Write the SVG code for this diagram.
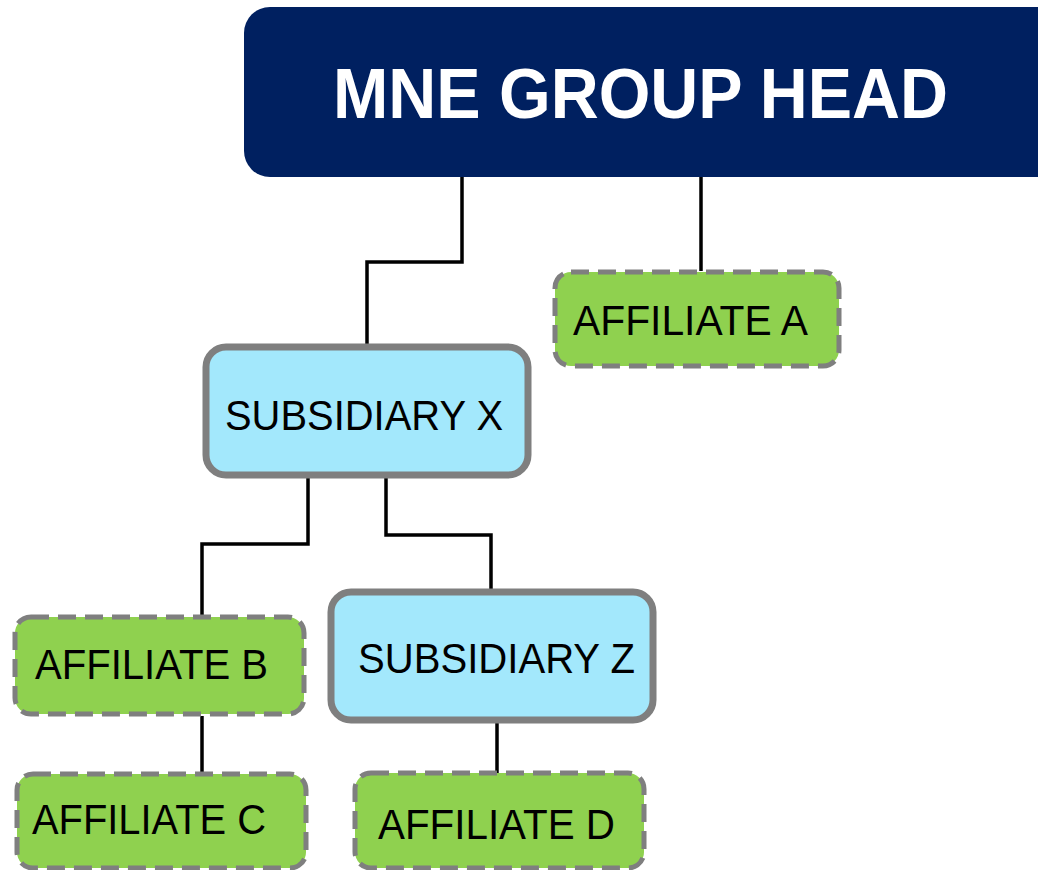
<svg xmlns="http://www.w3.org/2000/svg" width="1038" height="870" viewBox="0 0 1038 870">
<style>
.lbl{font-family:"Liberation Sans",Arial,sans-serif;fill:#000;font-size:43px}
.head{font-family:"Liberation Sans",Arial,sans-serif;fill:#fff;font-size:71px;font-weight:bold}
.aff{fill:#8fd14f;stroke:#7f7f7f;stroke-width:5;stroke-dasharray:18 9}
.sub{fill:#a3e8fc;stroke:#7f7f7f;stroke-width:7}
.conn{fill:none;stroke:#000;stroke-width:3.5}
</style>
<rect width="1038" height="870" fill="#fff"/>
<g id="connectors">
<polyline class="conn" points="462,177 462,262 367,262 367,346"/>
<polyline class="conn" points="701,177 701,271"/>
<polyline class="conn" points="308,477 308,544 202,544 202,616"/>
<polyline class="conn" points="386,477 386,535 491,535 491,591"/>
<polyline class="conn" points="202,716 202,774"/>
<polyline class="conn" points="497,722 497,773"/>
</g>
<g id="head">
<rect x="244" y="7" width="820" height="170" rx="26" fill="#002060"/>
<text class="head" x="333" y="118" textLength="615" lengthAdjust="spacingAndGlyphs">MNE GROUP HEAD</text>
</g>
<g id="affiliate-a">
<rect class="aff" x="555" y="272" width="284" height="94" rx="16"/>
<text class="lbl" x="573" y="335" textLength="235" lengthAdjust="spacingAndGlyphs">AFFILIATE A</text>
</g>
<g id="subsidiary-x">
<rect class="sub" x="206" y="347" width="322" height="128" rx="20"/>
<text class="lbl" x="225" y="430" textLength="278" lengthAdjust="spacingAndGlyphs">SUBSIDIARY X</text>
</g>
<g id="affiliate-b">
<rect class="aff" x="15" y="617" width="289" height="97" rx="16"/>
<text class="lbl" x="35" y="679" textLength="233" lengthAdjust="spacingAndGlyphs">AFFILIATE B</text>
</g>
<g id="subsidiary-z">
<rect class="sub" x="331" y="592" width="322" height="128" rx="20"/>
<text class="lbl" x="358" y="673" textLength="277" lengthAdjust="spacingAndGlyphs">SUBSIDIARY Z</text>
</g>
<g id="affiliate-c">
<rect class="aff" x="17" y="774" width="289" height="94" rx="16"/>
<text class="lbl" x="32" y="834" textLength="234" lengthAdjust="spacingAndGlyphs">AFFILIATE C</text>
</g>
<g id="affiliate-d">
<rect class="aff" x="355" y="773" width="289" height="95" rx="16"/>
<text class="lbl" x="378" y="839" textLength="237" lengthAdjust="spacingAndGlyphs">AFFILIATE D</text>
</g>
</svg>
